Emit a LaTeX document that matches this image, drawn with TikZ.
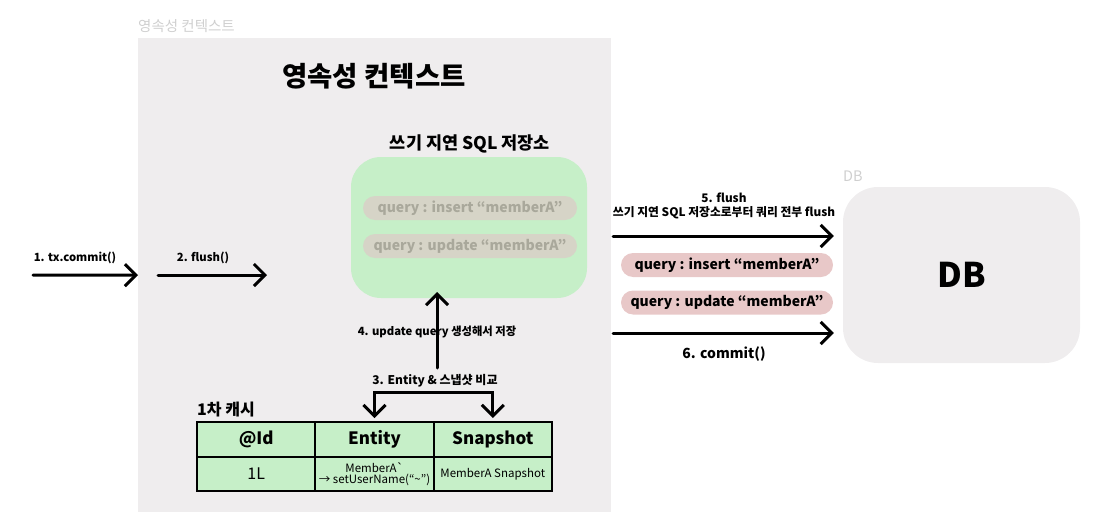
\documentclass[tikz,border=0pt]{standalone}
\usepackage{fontspec}
\setmainfont{Noto Sans CJK KR}[Ligatures=TeXOff]
\usepackage{xcolor}
\usepackage{tikz}
\usetikzlibrary{arrows.meta,positioning}
\definecolor{ctxgray}{HTML}{EFEDEE}
\definecolor{bufgreen}{HTML}{C6EFC8}
\definecolor{qgray}{HTML}{D6D4C7}
\definecolor{qgraytext}{HTML}{A9A89B}
\definecolor{qpink}{HTML}{E8C8C8}
\definecolor{capgray}{HTML}{CFCFCF}

\begin{document}
\begin{tikzpicture}[
  x=1pt,y=-1pt,
  >={Straight Barb[length=11pt,width=22pt]},
  flow/.style={->,line width=3pt,line cap=round},
  caption/.style={anchor=west,inner sep=0pt,text=capgray,font=\fontsize{14.5}{16}\selectfont},
  flowlbl/.style={inner sep=0pt,align=center,font=\bfseries\fontsize{11.3}{14}\selectfont},
  query/.style={rounded corners=12pt,minimum width=214,minimum height=24,inner sep=0pt,
    font=\bfseries\fontsize{14}{16}\selectfont},
  cell/.style={draw,line width=1.8pt,fill=bufgreen,minimum width=118.3,minimum height=35,
    inner sep=0pt,outer sep=0pt,align=center},
  headcell/.style={cell,font=\bfseries\fontsize{17}{20}\selectfont},
  valcell/.style={cell,minimum height=34,font=\fontsize{11.5}{13}\selectfont}
]
  \useasboundingbox (0,0) rectangle (1103,530);

  % persistence context
  \node[caption] (ctxcap) at (138,26) {영속성 컨텍스트};
  \node[fill=ctxgray,anchor=north west,minimum width=473,minimum height=474,inner sep=0pt] (ctx) at (138,38) {};
  \node[font=\bfseries\fontsize{27.5}{31}\selectfont] (ctxtitle) at (374,76) {영속성 컨텍스트};

  % write-behind store
  \node[fill=bufgreen,rounded corners=30pt,minimum width=236,minimum height=141] (buffer) at (469,227.5) {};
  \node[font=\bfseries\fontsize{17.5}{20}\selectfont] (buftitle) at (470,144) {쓰기 지연 SQL 저장소};
  \node[query,fill=qgray,text=qgraytext] (bufins) at (470,208) {query : insert “memberA”};
  \node[query,fill=qgray,text=qgraytext] (bufupd) at (470,246) {query : update “memberA”};

  % first-level cache
  \node[anchor=west,inner sep=0pt,font=\bfseries\fontsize{16}{18}\selectfont] (cachecap) at (197,410) {1차 캐시};
  \node[headcell] (idhead) at (256.2,439.5) {@Id};
  \node[headcell,right=0pt of idhead] (enthead) {Entity};
  \node[headcell,right=0pt of enthead] (snaphead) {Snapshot};
  \node[valcell,below=0pt of idhead,font=\fontsize{16}{18}\selectfont] (idval) {1L};
  \node[valcell,right=0pt of idval] (entval) {MemberA`\\[-2pt]→ setUserName(“\textasciitilde”)};
  \node[valcell,right=0pt of entval] (snapval) {MemberA Snapshot};

  % incoming calls
  \coordinate (commitin) at (33,275);
  \coordinate (flushfrom) at (158,275);
  \coordinate (flushto) at (267,275);
  \node[flowlbl] (commitlbl) at (75,258) {1. tx.commit()};
  \node[flowlbl] (flushlbl) at (203,258) {2. flush()};
  \draw[flow] (commitin) -- (ctx.west);
  \draw[flow] (flushfrom) -- (flushto);

  % compare and store
  \coordinate (cmpfoot) at (437,368);
  \coordinate (bufin) at (437,292);
  \coordinate (cmpbar) at (434,392);
  \node[flowlbl] (storelbl) at (437,332) {4. update query 생성해서 저장};
  \draw[flow] (cmpfoot) -- (bufin);
  \node[flowlbl,font=\bfseries\fontsize{12}{14}\selectfont] (cmplbl) at (435,381) {3. Entity \& 스냅샷 비교};
  \draw[flow,shorten >=4pt] (cmpbar) -| (enthead.north);
  \draw[flow,shorten >=4pt] (cmpbar) -| (snaphead.north);

  % database
  \node[caption] (dbcap) at (843,176) {DB};
  \node[fill=ctxgray,rounded corners=35pt,minimum width=237,minimum height=176,
    font=\bfseries\fontsize{34}{40}\selectfont] (db) at (961.5,275) {DB};
  \coordinate (flushout) at (613,236);
  \coordinate (commitout) at (613,333);
  \node[flowlbl,font=\bfseries\fontsize{11.8}{14}\selectfont] (dbflushlbl) at (724,206) {5. flush\\쓰기 지연 SQL 저장소로부터 쿼리 전부 flush};
  \draw[flow,shorten >=9pt] (flushout) -- (flushout -| db.west);
  \node[query,fill=qpink,minimum width=212] (dbins) at (727,265) {query : insert “memberA”};
  \node[query,fill=qpink,minimum width=212] (dbupd) at (727,302.5) {query : update “memberA”};
  \draw[flow,shorten >=9pt] (commitout) -- (commitout -| db.west);
  \node[flowlbl,font=\bfseries\fontsize{14}{16}\selectfont] (dbcommitlbl) at (724,354) {6. commit()};
\end{tikzpicture}
\end{document}
